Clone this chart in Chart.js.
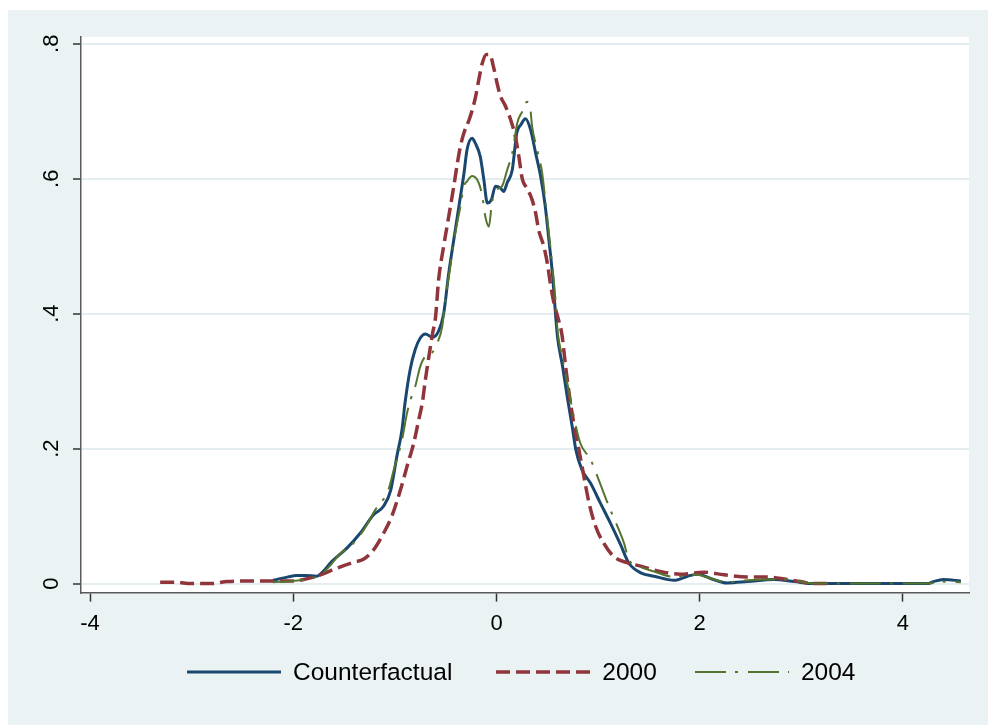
<!DOCTYPE html>
<html>
<head>
<meta charset="utf-8">
<script src="https://cdn.jsdelivr.net/npm/chart.js@4.4.0/dist/chart.umd.min.js"></script>
<style>
  html, body { margin: 0; padding: 0; background: #fff; }
  #wrap { position: absolute; left: 8px; top: 10px; width: 980px; height: 715px; background: #eaf2f3; }
  #kd { position: absolute; left: 0; top: 0; }
  #legend {
    position: absolute; left: 179px; top: 647px; height: 30px;
    display: flex; align-items: center;
    font-family: "Liberation Sans", Arial, sans-serif; font-size: 24.5px; color: #000;
  }
  #legend .item { display: flex; align-items: center; white-space: nowrap; }
  #legend svg { display: block; margin-right: 12px; }
</style>
</head>
<body>
<div id="wrap">
  <canvas id="kd" width="980" height="715"></canvas>
  <div id="legend"></div>
</div>
<script>
// kernel density estimates
const seriesNames = ['Counterfactual', '2000', '2004'];

const cfX = [-2.20, -2.05, -1.97, -1.88, -1.77, -1.72, -1.62, -1.47, -1.34, -1.21,
  -1.11, -1.04, -0.98, -0.93, -0.90, -0.85, -0.80, -0.75, -0.70, -0.63,
  -0.57, -0.52, -0.47, -0.42, -0.37, -0.32, -0.29, -0.24, -0.21, -0.16,
  -0.125, -0.09, -0.05, -0.01, 0.04, 0.07, 0.105, 0.155, 0.20, 0.24,
  0.285, 0.335, 0.385, 0.435, 0.48, 0.515, 0.55, 0.58, 0.60, 0.65,
  0.70, 0.745, 0.78, 0.84, 0.925, 1.02, 1.12, 1.22, 1.30, 1.42,
  1.55, 1.75, 1.88, 1.98, 2.10, 2.27, 2.47, 2.73, 2.93, 3.12,
  3.60, 4.24, 4.30, 4.40, 4.57];
const cfY = [0.005, 0.010, 0.012, 0.012, 0.011, 0.016, 0.033, 0.053, 0.075, 0.102,
  0.115, 0.139, 0.189, 0.228, 0.268, 0.317, 0.347, 0.364, 0.370, 0.365,
  0.374, 0.400, 0.460, 0.510, 0.559, 0.608, 0.643, 0.660, 0.653, 0.633,
  0.599, 0.564, 0.569, 0.589, 0.586, 0.581, 0.594, 0.613, 0.668, 0.680,
  0.689, 0.673, 0.638, 0.603, 0.559, 0.510, 0.460, 0.401, 0.366, 0.322,
  0.273, 0.233, 0.199, 0.169, 0.149, 0.120, 0.090, 0.058, 0.031, 0.016,
  0.011, 0.005, 0.011, 0.014, 0.008, 0.001, 0.003, 0.006, 0.003, 0.000,
  0.000, 0.000, 0.003, 0.006, 0.004];

const y2000X = [-3.31, -3.15, -3.01, -2.81, -2.65, -2.39, -2.19, -2.00, -1.90, -1.77,
  -1.57, -1.40, -1.31, -1.21, -1.11, -1.03, -0.945, -0.88, -0.815, -0.765,
  -0.73, -0.70, -0.665, -0.63, -0.60, -0.57, -0.52, -0.47, -0.42, -0.385,
  -0.355, -0.32, -0.27, -0.24, -0.205, -0.175, -0.14, -0.10, -0.065, -0.03,
  0.005, 0.04, 0.09, 0.14, 0.185, 0.22, 0.255, 0.30, 0.35, 0.385,
  0.415, 0.465, 0.50, 0.53, 0.565, 0.61, 0.645, 0.68, 0.71, 0.76,
  0.81, 0.86, 0.91, 0.975, 1.055, 1.155, 1.285, 1.42, 1.61, 1.81,
  2.04, 2.24, 2.47, 2.66, 2.86, 2.99, 3.12, 3.25];
const y2000Y = [0.002, 0.002, 0.000, 0.000, 0.003, 0.004, 0.004, 0.004, 0.006, 0.011,
  0.023, 0.032, 0.036, 0.050, 0.075, 0.100, 0.139, 0.174, 0.208, 0.243,
  0.268, 0.302, 0.337, 0.370, 0.395, 0.450, 0.500, 0.544, 0.589, 0.623,
  0.648, 0.668, 0.687, 0.701, 0.722, 0.746, 0.771, 0.784, 0.784, 0.766,
  0.742, 0.722, 0.707, 0.687, 0.663, 0.633, 0.599, 0.586, 0.569, 0.549,
  0.524, 0.500, 0.475, 0.445, 0.416, 0.391, 0.368, 0.322, 0.287, 0.238,
  0.199, 0.159, 0.120, 0.085, 0.060, 0.040, 0.031, 0.026, 0.018, 0.014,
  0.017, 0.013, 0.010, 0.010, 0.006, 0.003, 0.000, 0.000];

const y2004X = [-2.20, -2.00, -1.93, -1.77, -1.73, -1.63, -1.535, -1.44, -1.305, -1.19,
  -1.14, -1.075, -1.01, -0.93, -0.88, -0.845, -0.80, -0.75, -0.70, -0.635,
  -0.585, -0.535, -0.50, -0.455, -0.405, -0.355, -0.32, -0.29, -0.24, -0.175,
  -0.14, -0.11, -0.075, -0.045, 0.005, 0.055, 0.105, 0.155, 0.205, 0.255,
  0.30, 0.33, 0.35, 0.40, 0.45, 0.48, 0.515, 0.55, 0.58, 0.60,
  0.645, 0.71, 0.76, 0.825, 0.925, 1.005, 1.105, 1.19, 1.255, 1.30,
  1.37, 1.55, 1.745, 1.975, 2.10, 2.27, 2.47, 2.66, 2.86, 3.03,
  3.16, 3.60, 4.24, 4.37, 4.57];
const y2004Y = [0.002, 0.004, 0.005, 0.010, 0.013, 0.028, 0.045, 0.055, 0.080, 0.110,
  0.120, 0.134, 0.169, 0.213, 0.253, 0.273, 0.292, 0.322, 0.337, 0.342,
  0.356, 0.380, 0.425, 0.470, 0.520, 0.559, 0.589, 0.596, 0.604, 0.594,
  0.574, 0.544, 0.529, 0.564, 0.584, 0.589, 0.613, 0.638, 0.683, 0.700,
  0.714, 0.707, 0.678, 0.643, 0.608, 0.569, 0.520, 0.470, 0.421, 0.376,
  0.337, 0.287, 0.248, 0.208, 0.184, 0.154, 0.115, 0.085, 0.060, 0.036,
  0.028, 0.018, 0.010, 0.013, 0.008, 0.002, 0.005, 0.006, 0.006, 0.002,
  0.000, 0.000, 0.000, 0.003, 0.002];

const xTicks = [-4, -2, 0, 2, 4];
const xTickLabels = ['-4', '-2', '0', '2', '4'];
const yTicks = [0, 0.2, 0.4, 0.6, 0.8];
const yTickLabels = ['0', '.2', '.4', '.6', '.8'];

const FONT = '"Liberation Sans", Arial, sans-serif';
const colors = ['#1a476f', '#90353b', '#55752f'];
const widths = [3, 3.5, 2];
const dashes = [[], [14, 6], [31, 9, 3, 10]];
const legendGaps = [0, 44, 38];

function pts(xs, ys) {
  return xs.map((x, i) => ({x: x, y: ys[i]}));
}

// white plot region on the grey graph region
const plotBg = {
  id: 'plotBg',
  beforeDraw(chart) {
    const a = chart.chartArea;
    const ctx = chart.ctx;
    ctx.save();
    ctx.fillStyle = '#ffffff';
    ctx.fillRect(a.left, a.top, a.right - a.left, a.bottom - a.top);
    ctx.restore();
  }
};

// html legend built from the datasets (line key + label, one row)
const htmlLegend = {
  id: 'htmlLegend',
  afterUpdate(chart) {
    const box = document.getElementById('legend');
    box.innerHTML = '';
    chart.data.datasets.forEach((ds, i) => {
      const item = document.createElement('div');
      item.className = 'item';
      item.style.marginLeft = legendGaps[i] + 'px';
      const dash = (ds.borderDash || []).join(' ');
      item.innerHTML =
        '<svg width="94" height="10"><line x1="0" y1="5" x2="94" y2="5" stroke="' + ds.borderColor +
        '" stroke-width="' + ds.borderWidth + '"' + (dash ? ' stroke-dasharray="' + dash + '"' : '') + '/></svg>';
      const label = document.createElement('span');
      label.textContent = ds.label;
      item.appendChild(label);
      box.appendChild(item);
    });
  }
};

const allX = [cfX, y2000X, y2004X];
const allY = [cfY, y2000Y, y2004Y];

const ctx = document.getElementById('kd').getContext('2d');
new Chart(ctx, {
  type: 'line',
  data: {
    datasets: seriesNames.map((name, i) => ({
      label: name,
      data: pts(allX[i], allY[i]),
      borderColor: colors[i],
      borderWidth: widths[i],
      borderDash: dashes[i],
      order: 3 - i   // later series on top, like Stata
    }))
  },
  options: {
    responsive: false,
    animation: false,
    devicePixelRatio: 1,
    layout: {padding: {left: 0, top: 27, right: 19, bottom: 79}},
    elements: {
      point: {radius: 0},
      line: {cubicInterpolationMode: 'monotone', fill: false}
    },
    scales: {
      x: {
        type: 'linear',
        min: -4.089,
        max: 4.65,
        afterBuildTicks: s => { s.ticks = xTicks.map(v => ({value: v})); },
        afterFit: s => { s.paddingLeft = 0; s.paddingRight = 0; },
        grid: {drawOnChartArea: false, tickLength: 9, tickColor: '#333', tickWidth: 1.5},
        border: {color: '#5a5a5a', width: 1.5},
        ticks: {
          padding: 9, color: '#000', maxRotation: 0,
          font: {family: FONT, size: 22},
          callback: (v, i) => xTickLabels[i]
        }
      },
      y: {
        type: 'linear',
        min: -0.0133,
        max: 0.81,
        afterBuildTicks: s => { s.ticks = yTicks.map(v => ({value: v})); },
        afterFit: s => { s.width = 73; s.paddingTop = 0; s.paddingBottom = 0; },
        grid: {color: '#e4edf0', lineWidth: 2, tickLength: 8, tickColor: '#333', tickWidth: 1.5},
        border: {color: '#5a5a5a', width: 1.5},
        ticks: {
          padding: 12, color: '#000', crossAlign: 'center',
          minRotation: 90, maxRotation: 90,
          font: {family: FONT, size: 22},
          callback: (v, i) => yTickLabels[i]
        }
      }
    },
    plugins: {
      tooltip: {enabled: false},
      legend: {display: false}
    }
  },
  plugins: [plotBg, htmlLegend]
});
</script>
</body>
</html>
